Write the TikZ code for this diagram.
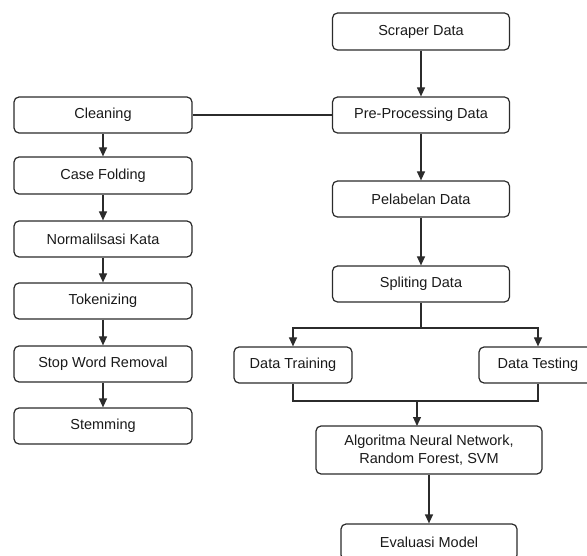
\documentclass[tikz,border=0pt]{standalone}
\usepackage{fontspec}
\setmainfont{Liberation Sans}
\usetikzlibrary{arrows.meta,calc}
\definecolor{ln}{HTML}{2B2B2B}
\definecolor{tx}{HTML}{1A1A1A}
\tikzset{
  box/.style={draw=ln, line width=1.2pt, rounded corners=5pt, fill=white,
    minimum height=36pt, inner sep=0pt, align=center, text=tx,
    font=\fontsize{14.5}{18}\selectfont},
  lbox/.style={box, minimum width=178pt},
  rbox/.style={box, minimum width=177pt},
  conn/.style={draw=ln, line width=1.2pt},
  arr/.style={conn, -{Triangle[width=8pt,length=9pt]}}
}
\begin{document}
\begin{tikzpicture}[x=1pt,y=-1pt]
\useasboundingbox (0,0) rectangle (587,556);
% right column
\node[rbox, minimum height=37pt] (scr) at (421,31.5) {Scraper Data};
\node[rbox] (pre) at (421,115) {Pre-Processing Data};
\node[rbox] (pel) at (421,199) {Pelabelan Data};
\node[rbox] (spl) at (421,284) {Spliting Data};
\node[box, minimum width=118pt] (trn) at (293,365) {Data Training};
\node[box, minimum width=118pt] (tst) at (538,365) {Data Testing};
\node[box, minimum width=226pt, minimum height=48pt] (alg) at (429,450) {Algoritma Neural Network,\\Random Forest, SVM};
\node[box, minimum width=176pt] (eva) at (429,542) {Evaluasi Model};
% left column
\node[lbox] (cln) at (103,115) {Cleaning};
\node[lbox, minimum height=37pt] (cf) at (103,175.5) {Case Folding};
\node[lbox] (nk) at (103,239) {Normalilsasi Kata};
\node[lbox] (tok) at (103,301) {Tokenizing};
\node[lbox] (swr) at (103,364) {Stop Word Removal};
\node[lbox] (stm) at (103,426) {Stemming};
% coordinates
\coordinate (sj) at (421,328);
\coordinate (sl) at (293,328);
\coordinate (sr) at (538,328);
\coordinate (jl) at (293,401);
\coordinate (jr) at (538,401);
\coordinate (jm) at (417,401);
\coordinate (am) at (417,426);
% connectors
\draw[arr] (scr) -- (pre);
\draw[conn] (pre.west) -- (cln.east);
\draw[arr] (pre) -- (pel);
\draw[arr] (pel) -- (spl);
\draw[conn] (spl.south) -- (sj);
\draw[arr] (sj) -- (sl) -- (trn.north);
\draw[arr] (sj) -- (sr) -- (tst.north);
\draw[conn] (trn.south) -- (jl) -- (jr) -- (tst.south);
\draw[arr] (jm) -- (am);
\draw[arr] (alg) -- (eva);
\draw[arr] (cln) -- (cf);
\draw[arr] (cf) -- (nk);
\draw[arr] (nk) -- (tok);
\draw[arr] (tok) -- (swr);
\draw[arr] (swr) -- (stm);
\end{tikzpicture}
\end{document}
